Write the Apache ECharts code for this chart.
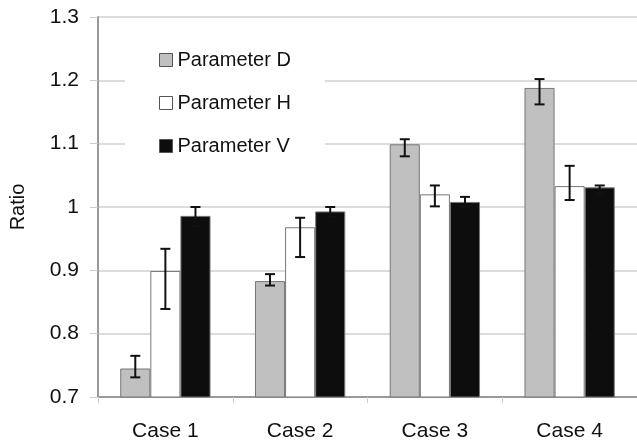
<!DOCTYPE html>
<html>
<head>
<meta charset="utf-8">
<script src="https://cdn.jsdelivr.net/npm/echarts@6/dist/echarts.min.js"></script>
<style>
  html, body { margin: 0; padding: 0; background: #fff; }
  #chart { width: 637px; height: 444px; }
</style>
</head>
<body>
<div id="chart"></div>
<script>
const categories = ['Case 1', 'Case 2', 'Case 3', 'Case 4']
const seriesNames = ['Parameter D', 'Parameter H', 'Parameter V']

const paramD = [0.745, 0.883, 1.099, 1.188]
const paramH = [0.899, 0.968, 1.020, 1.033]
const paramV = [0.986, 0.993, 1.008, 1.031]

// error bar ends [low, high]
const errD = [[0.731, 0.765], [0.876, 0.894], [1.080, 1.107], [1.162, 1.202]]
const errH = [[0.839, 0.934], [0.921, 0.983], [1.001, 1.034], [1.011, 1.065]]
const errV = [[0.970, 1.000], [0.985, 1.000], [1.000, 1.016], [1.020, 1.034]]

const yTicks = { min: 0.7, max: 1.3, interval: 0.1 }

const chart = echarts.init(document.getElementById('chart'))

const fills = ['#c0c0c0', '#ffffff', '#0d0d0d']
const values = [paramD, paramH, paramV]
const errs = [errD, errH, errV]
const catGap = 0.33

function errorSeries(idx) {
  return {
    type: 'custom',
    name: seriesNames[idx] + ' err',
    z: 10,
    silent: true,
    data: errs[idx].map((e, i) => [i, e[0], e[1]]),
    renderItem: (params, api) => {
      const band = api.size([1, 0])[0]
      const bw = band * (1 - catGap) / 3
      const x = api.coord([api.value(0), 0])[0] + (idx - 1) * bw
      const lo = api.coord([api.value(0), api.value(1)])[1]
      const hi = api.coord([api.value(0), api.value(2)])[1]
      const cap = 5
      const style = { stroke: '#111', lineWidth: 2 }
      return {
        type: 'group',
        children: [
          { type: 'line', shape: { x1: x, y1: lo, x2: x, y2: hi }, style },
          { type: 'line', shape: { x1: x - cap, y1: lo, x2: x + cap, y2: lo }, style },
          { type: 'line', shape: { x1: x - cap, y1: hi, x2: x + cap, y2: hi }, style }
        ]
      }
    }
  }
}

const barSeries = values.map((v, idx) => ({
  type: 'bar',
  name: seriesNames[idx],
  data: v,
  barGap: '0%',
  barCategoryGap: (catGap * 100) + '%',
  itemStyle: { color: fills[idx], borderColor: '#777', borderWidth: 1 }
}))

const option = {
  animation: false,
  textStyle: { fontFamily: 'Liberation Sans, Arial, sans-serif' },
  grid: { left: 97, right: 0, top: 17, bottom: 47 },
  legend: {
    orient: 'vertical',
    left: 125,
    top: 36,
    icon: 'rect',
    itemWidth: 13,
    itemHeight: 13,
    itemGap: 23,
    padding: [14, 34, 14, 34],
    backgroundColor: '#fff',
    data: seriesNames,
    textStyle: { fontSize: 20, color: '#111', fontFamily: 'Liberation Sans, Arial, sans-serif' },
    itemStyle: { borderColor: '#555', borderWidth: 1 }
  },
  xAxis: {
    type: 'category',
    data: categories,
    axisLine: { lineStyle: { color: '#999', width: 2 } },
    axisTick: { show: true, length: 6, lineStyle: { color: '#ccc' } },
    axisLabel: { fontSize: 21, color: '#111', margin: 24 }
  },
  yAxis: {
    type: 'value',
    min: yTicks.min,
    max: yTicks.max,
    interval: yTicks.interval,
    name: 'Ratio',
    nameLocation: 'middle',
    nameGap: 70,
    nameTextStyle: { fontSize: 20, color: '#111' },
    axisLine: { show: true, lineStyle: { color: '#999', width: 2 } },
    axisTick: { show: true, length: 8, lineStyle: { color: '#ccc' } },
    axisLabel: { fontSize: 21, color: '#111', margin: 19 },
    splitLine: { lineStyle: { color: '#d0d0d0', width: 1.5 } }
  },
  series: [...barSeries, ...[0, 1, 2].map(errorSeries)]
}

chart.setOption(option)
</script>
</body>
</html>
